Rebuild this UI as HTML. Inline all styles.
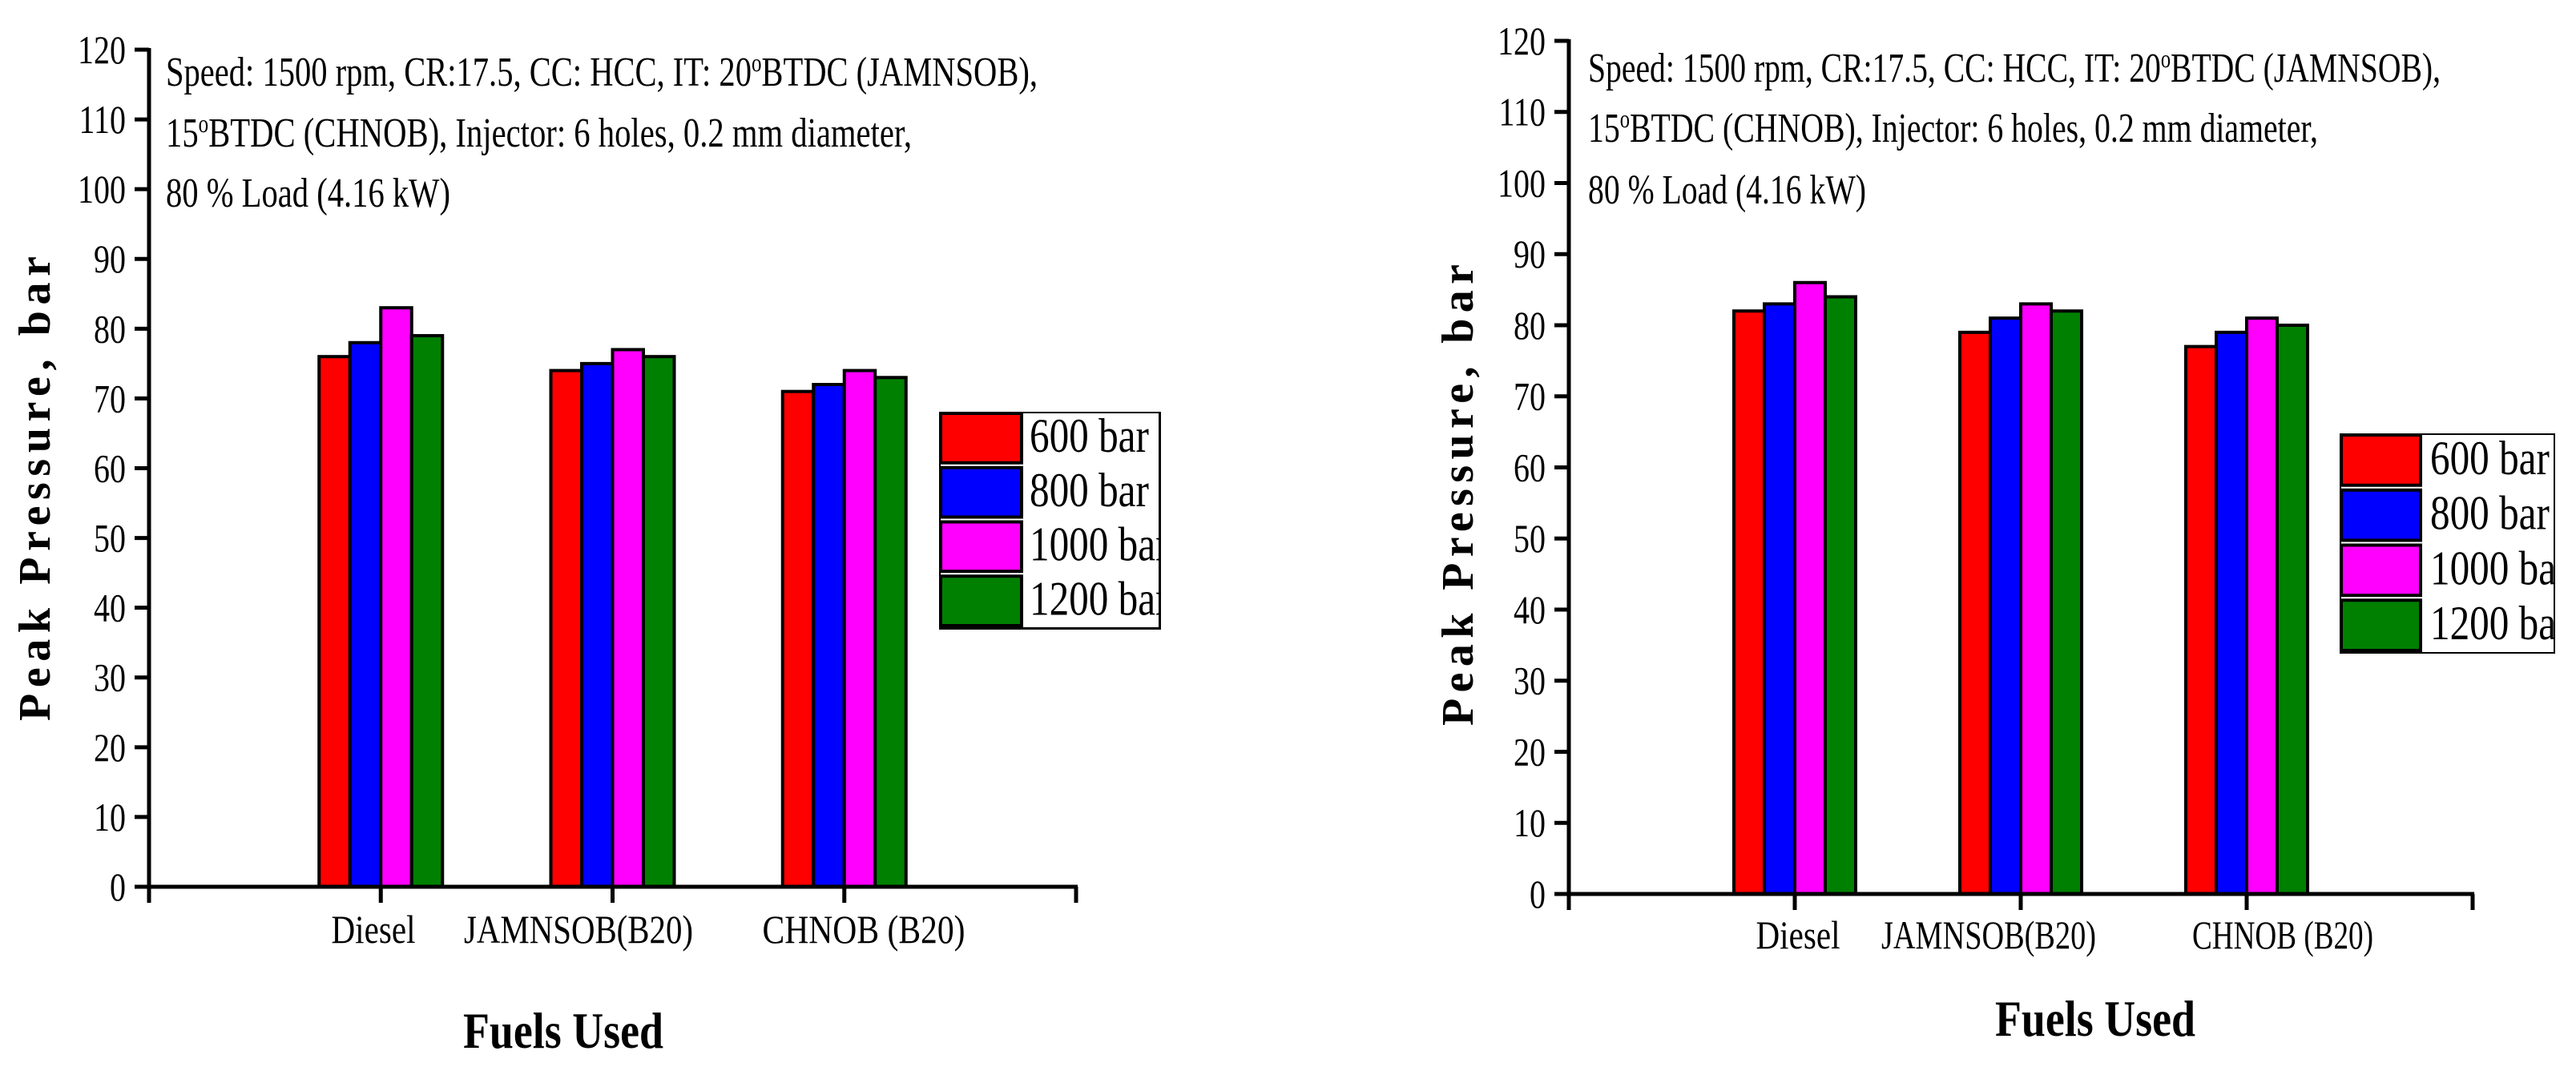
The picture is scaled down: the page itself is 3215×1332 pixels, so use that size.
<!DOCTYPE html>
<html><head><meta charset="utf-8"><style>
html,body{margin:0;padding:0;background:#fff;}
svg{display:block;font-family:"Liberation Serif",serif;}
</style></head><body>
<svg id="svg" width="3215" height="1332" viewBox="0 0 3215 1332" xmlns="http://www.w3.org/2000/svg">
<defs>
<clipPath id="clipL"><rect x="1172" y="514" width="277" height="272"/></clipPath>
<clipPath id="clipR"><rect x="2920" y="541" width="269" height="275"/></clipPath>
</defs>
</svg>
<script>
const categories = ["Diesel", "JAMNSOB(B20)", "CHNOB (B20)"];
const seriesNames = ["600 bar", "800 bar", "1000 bar", "1200 bar"];
const leftValues600 = [76, 74, 71];
const leftValues800 = [78, 75, 72];
const leftValues1000 = [83, 77, 74];
const leftValues1200 = [79, 76, 73];
const rightValues600 = [82, 79, 77];
const rightValues800 = [83, 81, 79];
const rightValues1000 = [86, 83, 81];
const rightValues1200 = [84, 82, 80];
const yTicks = [0, 10, 20, 30, 40, 50, 60, 70, 80, 90, 100, 110, 120];

const colors = ["#ff0000", "#0000ff", "#ff00ff", "#008000"];
const NS = "http://www.w3.org/2000/svg";
const svg = document.getElementById("svg");

function mk(tag, attrs, parent, text) {
  const e = document.createElementNS(NS, tag);
  for (const k in attrs) e.setAttribute(k, attrs[k]);
  if (text !== undefined) e.textContent = text;
  (parent || svg).appendChild(e);
  return e;
}

function drawChart(cfg) {
  const g = mk("g", {});
  
  
  const yScale = v => cfg.y0 + (cfg.y120 - cfg.y0) * v / 120;
  const step = (cfg.xEnd - cfg.x0) / 4;
  const xScale = i => cfg.x0 + step * (i + 1);
  const bw = cfg.barW;

  cfg.series.forEach((vals, s) => {
    vals.forEach((v, i) => {
      const x = xScale(i) - 2 * bw + s * bw;
      const r = mk("rect", {x: x, y: yScale(v), width: bw, height: yScale(0) - yScale(v), fill: colors[s], stroke: "#000", "stroke-width": 4}, g);
      
      
    });
  });

  const ya = mk("line", {x1: cfg.x0, y1: cfg.y120 - 2, x2: cfg.x0, y2: cfg.y0 + 2, stroke: "#000", "stroke-width": 5}, g);
  
  
  yTicks.forEach(t => {
    const y = yScale(t);
    const tk = mk("line", {x1: cfg.x0 - 18, y1: y, x2: cfg.x0, y2: y, stroke: "#000", "stroke-width": 5}, g);
    
    
    const lb = mk("text", {x: cfg.x0 - 29, y: y + 17, "text-anchor": "end", "font-size": 50, transform: `translate(${cfg.x0 - 29},0) scale(0.8,1) translate(${-(cfg.x0 - 29)},0)`}, g, String(t));
    
    
  });

  const xa = mk("line", {x1: cfg.x0 - 18, y1: cfg.y0, x2: cfg.xEnd + 2, y2: cfg.y0, stroke: "#000", "stroke-width": 5}, g);
  
  
  for (let i = 0; i <= 4; i++) {
    const x = cfg.x0 + step * i;
    const tk = mk("line", {x1: x, y1: cfg.y0, x2: x, y2: cfg.y0 + 20, stroke: "#000", "stroke-width": 5}, g);
    
    
  }
  categories.forEach((c, i) => {
    const lb = mk("text", {x: cfg.catX[i], y: cfg.catY, "text-anchor": "middle", "font-size": 50, textLength: cfg.catW[i], lengthAdjust: "spacingAndGlyphs"}, g, c);
    
    
  });

  cfg.ann.forEach((a, k) => {
    const t = mk("text", {x: cfg.annX, y: a.y, "font-size": 52, textLength: a.w, lengthAdjust: "spacingAndGlyphs"}, g);
    
    
    a.parts.forEach(p => {
      if (p.sup) mk("tspan", {"font-size": 32, dy: -18}, t, p.t);
      else if (p.after) mk("tspan", {dy: 18}, t, p.t);
      else mk("tspan", {}, t, p.t);
    });
  });

  const yt = mk("text", {x: 0, y: 0, "text-anchor": "middle", "font-size": 56, "font-weight": "bold", textLength: cfg.yTitleLen, lengthAdjust: "spacing", transform: `translate(${cfg.yTitleX},${cfg.yTitleY}) rotate(-90)`}, g, "Peak Pressure, bar");
  
  
  const xt = mk("text", {x: cfg.xTitleX, y: cfg.xTitleY, "text-anchor": "middle", "font-size": 64, "font-weight": "bold", textLength: 250, lengthAdjust: "spacingAndGlyphs"}, g, "Fuels Used");
  
  

  const L = cfg.legend;
  const lg = mk("g", {"clip-path": `url(#${L.clip})`}, g);
  
  
  const box = mk("rect", {x: L.x, y: L.y, width: L.w, height: L.h, fill: "#fff", stroke: "#000", "stroke-width": 4}, lg);
  
  
  const rh = L.h / 4;
  seriesNames.forEach((n, s) => {
    const sw = mk("rect", {x: L.x + 2, y: L.y + 2 + s * rh, width: L.sw, height: rh - 6, fill: colors[s], stroke: "#000", "stroke-width": 4}, lg);
    
    
    const tx = mk("text", {x: L.tx, y: L.y + s * rh + rh * 0.74, "font-size": 60, transform: `translate(${L.tx},0) scale(0.82,1) translate(${-L.tx},0)`}, lg, n);
    
    
  });
}

function annParts() {
  return [
    [{t: "Speed: 1500 rpm, CR:17.5, CC: HCC, IT: 20"}, {t: "o", sup: true}, {t: "BTDC (JAMNSOB),", after: true}],
    [{t: "15"}, {t: "o", sup: true}, {t: "BTDC (CHNOB), Injector: 6 holes, 0.2 mm diameter,", after: true}],
    [{t: "80 % Load (4.16 kW)"}]
  ];
}

const pl = annParts();
drawChart({
  name: "left-chart",
  x0: 186, xEnd: 1343, y0: 1107, y120: 62, barW: 38.5,
  series: [leftValues600, leftValues800, leftValues1000, leftValues1200],
  catX: [466, 722, 1078], catW: [105, 286, 253], catY: 1177,
  annX: 207,
  ann: [{y: 107, w: 1088, parts: pl[0]}, {y: 183, w: 931, parts: pl[1]}, {y: 258, w: 355, parts: pl[2]}],
  yTitleX: 62, yTitleY: 610, yTitleLen: 580,
  xTitleX: 703, xTitleY: 1308,
  legend: {x: 1172, y: 514, w: 276, h: 271, sw: 101, tx: 1285, clip: "clipL"}
});
const pr = annParts();
drawChart({
  name: "right-chart",
  x0: 1958, xEnd: 3086, y0: 1116, y120: 51, barW: 38,
  series: [rightValues600, rightValues800, rightValues1000, rightValues1200],
  catX: [2244, 2482, 2849], catW: [105, 268, 226], catY: 1184,
  annX: 1982,
  ann: [{y: 102, w: 1064, parts: pr[0]}, {y: 177, w: 911, parts: pr[1]}, {y: 254, w: 347, parts: pr[2]}],
  yTitleX: 1838, yTitleY: 618, yTitleLen: 576,
  xTitleX: 2615, xTitleY: 1293,
  legend: {x: 2920, y: 541, w: 269, h: 275, sw: 99, tx: 3033, clip: "clipR"}
});
</script>
</body></html>
